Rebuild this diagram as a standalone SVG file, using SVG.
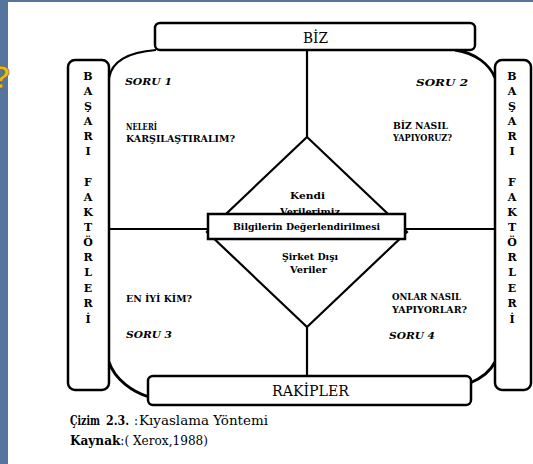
<svg xmlns="http://www.w3.org/2000/svg" width="533" height="464" viewBox="0 0 533 464">
<defs>
<style>
text{font-family:'DejaVu Serif','Liberation Serif',serif}
.box{fill:#fff;stroke:#000;stroke-width:2.5}
.ln{fill:none;stroke:#000;stroke-width:2.2}
.lbl{font-weight:bold;font-size:10px;fill:#000}
.q{font-weight:bold;font-style:italic;font-size:10px;fill:#000}
.vt{font-weight:bold;font-size:11px;fill:#000;text-anchor:middle}
.big{font-size:14px;fill:#000}
.cap{font-size:12px;fill:#000}
</style>
</defs>
<rect x="0" y="0" width="533" height="464" fill="#fff"/>
<rect x="0" y="0" width="533" height="2" fill="#56759e"/>
<rect x="0" y="0" width="8" height="464" fill="#56759e"/>
<text x="1" y="88" style="font-family:'Liberation Sans',Arial,sans-serif" font-weight="bold" font-size="32" fill="#e8b820" stroke="#6a5a10" stroke-width="0.6" text-anchor="middle">?</text>

<g id="connectors">
<line class="ln" x1="307" y1="50" x2="307" y2="137"/>
<line class="ln" x1="307" y1="327" x2="307" y2="377"/>
<line class="ln" x1="109" y1="229" x2="208" y2="229"/>
<line class="ln" x1="405" y1="229" x2="495" y2="229"/>
<path class="ln" d="M109,78 C112,60 130,52 156,50"/>
<path class="ln" d="M455,50 C476,53 490,65 495,78" style="stroke-width:2.8"/>
<path class="ln" d="M109,362 C115,380 133,392 149,397" style="stroke-width:2.8"/>
<path class="ln" d="M470,383 C482,378 490,372 495,362" style="stroke-width:2.8"/>
</g>

<g id="biz">
<rect class="box" x="155" y="23" width="320" height="27" rx="5"/>
<text class="big" x="303" y="43" textLength="25" lengthAdjust="spacingAndGlyphs">BİZ</text>
</g>

<g id="rakipler">
<rect class="box" x="148" y="376" width="323" height="29" rx="5"/>
<text class="big" x="272" y="396" textLength="77" lengthAdjust="spacingAndGlyphs">RAKİPLER</text>
</g>

<g id="basari-left">
<rect class="box" x="68" y="60" width="41" height="330" rx="7"/>
<g class="vt">
<text x="88" y="80">B</text><text x="88" y="95">A</text><text x="88" y="110">Ş</text><text x="88" y="125">A</text><text x="88" y="140">R</text><text x="88" y="155">I</text>
<text x="88" y="186">F</text><text x="88" y="201">A</text><text x="88" y="216">K</text><text x="88" y="231">T</text><text x="88" y="246">Ö</text><text x="88" y="261">R</text><text x="88" y="276">L</text><text x="88" y="292">E</text><text x="88" y="307">R</text><text x="88" y="323">İ</text>
</g>
</g>

<g id="basari-right">
<rect class="box" x="495" y="60" width="36" height="330" rx="7"/>
<g class="vt">
<text x="512" y="80">B</text><text x="512" y="95">A</text><text x="512" y="110">Ş</text><text x="512" y="125">A</text><text x="512" y="140">R</text><text x="512" y="155">I</text>
<text x="512" y="186">F</text><text x="512" y="201">A</text><text x="512" y="216">K</text><text x="512" y="231">T</text><text x="512" y="246">Ö</text><text x="512" y="261">R</text><text x="512" y="276">L</text><text x="512" y="292">E</text><text x="512" y="307">R</text><text x="512" y="323">İ</text>
</g>
</g>

<g id="soru1">
<text class="q" x="125" y="85" textLength="47" lengthAdjust="spacingAndGlyphs">SORU 1</text>
<text class="lbl" x="126" y="130" textLength="31" lengthAdjust="spacingAndGlyphs">NELERİ</text>
<text class="lbl" x="126" y="142" textLength="109" lengthAdjust="spacingAndGlyphs">KARŞILAŞTIRALIM?</text>
</g>

<g id="soru2">
<text class="q" x="416" y="86" textLength="52" lengthAdjust="spacingAndGlyphs">SORU 2</text>
<text class="lbl" x="393" y="129" textLength="55" lengthAdjust="spacingAndGlyphs">BİZ NASIL</text>
<text class="lbl" x="393" y="141" textLength="59" lengthAdjust="spacingAndGlyphs">YAPIYORUZ?</text>
</g>

<g id="soru3">
<text class="lbl" x="126" y="302" textLength="66" lengthAdjust="spacingAndGlyphs">EN İYİ KİM?</text>
<text class="q" x="126" y="338" textLength="46" lengthAdjust="spacingAndGlyphs">SORU 3</text>
</g>

<g id="soru4">
<text class="lbl" x="392" y="300" textLength="69" lengthAdjust="spacingAndGlyphs">ONLAR NASIL</text>
<text class="lbl" x="392" y="313" textLength="75" lengthAdjust="spacingAndGlyphs">YAPIYORLAR?</text>
<text class="q" x="389" y="339" textLength="46" lengthAdjust="spacingAndGlyphs">SORU 4</text>
</g>

<g id="degerlendirme">
<polygon points="307,137 407,232 307,327 207,232" fill="#fff" stroke="#000" stroke-width="2.2"/>
<text class="lbl" x="290" y="199" textLength="35" lengthAdjust="spacingAndGlyphs">Kendi</text>
<text class="lbl" x="280" y="215" textLength="60" lengthAdjust="spacingAndGlyphs">Verilerimiz</text>
<text class="lbl" x="282" y="260" textLength="56" lengthAdjust="spacingAndGlyphs">Şirket Dışı</text>
<text class="lbl" x="290" y="273" textLength="37" lengthAdjust="spacingAndGlyphs">Veriler</text>
<rect x="208" y="214" width="197" height="25" fill="#fff" stroke="#000" stroke-width="2.5"/>
<text class="lbl" x="233" y="230" textLength="147" lengthAdjust="spacingAndGlyphs">Bilgilerin Değerlendirilmesi</text>
</g>

<g id="caption">
<text class="cap" x="70" y="425" font-weight="bold" textLength="30" lengthAdjust="spacingAndGlyphs">Çizim</text>
<text class="cap" x="106" y="425" font-weight="bold" textLength="23" lengthAdjust="spacingAndGlyphs">2.3.</text>
<text class="cap" x="134" y="425">:</text>
<text class="cap" x="139" y="425" textLength="129" lengthAdjust="spacingAndGlyphs">Kıyaslama Yöntemi</text>
<text class="cap" x="70" y="445" textLength="138" lengthAdjust="spacingAndGlyphs"><tspan font-weight="bold">Kaynak</tspan>:( Xerox,1988)</text>
</g>
</svg>
